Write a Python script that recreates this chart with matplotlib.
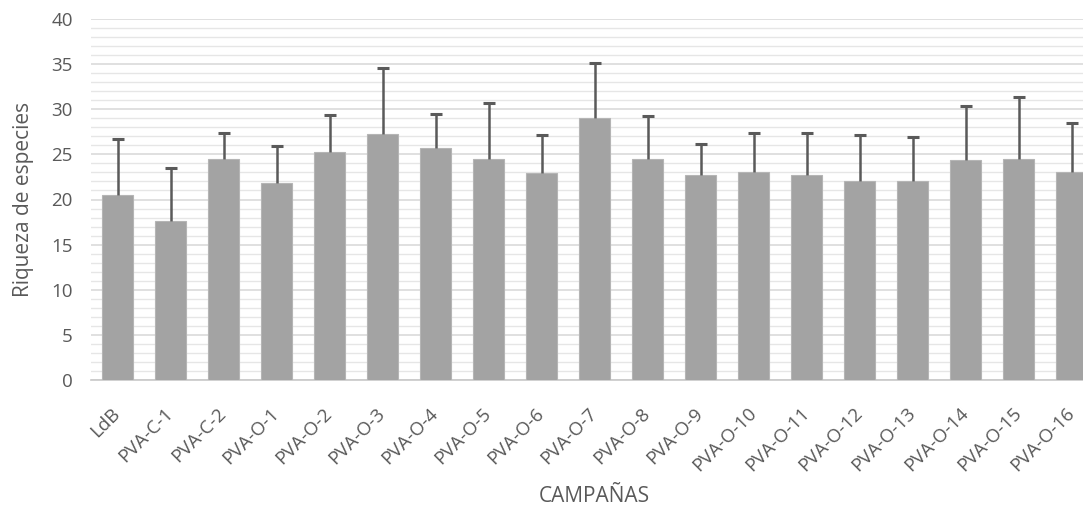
import matplotlib
matplotlib.use("Agg")
import matplotlib.pyplot as plt
from matplotlib.ticker import MultipleLocator

# Species richness per sampling campaign (mean and upper SD)
campaigns = ["LdB", "PVA-C-1", "PVA-C-2", "PVA-O-1", "PVA-O-2", "PVA-O-3", "PVA-O-4",
             "PVA-O-5", "PVA-O-6", "PVA-O-7", "PVA-O-8", "PVA-O-9", "PVA-O-10",
             "PVA-O-11", "PVA-O-12", "PVA-O-13", "PVA-O-14", "PVA-O-15", "PVA-O-16"]
richness = [20.5, 17.6, 24.5, 21.8, 25.3, 27.3, 25.7, 24.5, 22.9, 29.0,
            24.5, 22.7, 23.0, 22.7, 22.1, 22.1, 24.4, 24.5, 23.1]
err_top = [26.7, 23.5, 27.4, 25.9, 29.4, 34.6, 29.5, 30.7, 27.2, 35.1,
           29.3, 26.1, 27.4, 27.4, 27.2, 26.9, 30.4, 31.4, 28.5]
sd = [t - m for t, m in zip(err_top, richness)]

TXT = "#595959"
plt.rcParams["font.family"] = ["Open Sans", "DejaVu Sans"]

fig = plt.figure(figsize=(10.83, 5.15), dpi=100)
ax = fig.add_axes([91 / 1083, 135 / 515, 992 / 1083, 361 / 515])

x = range(len(campaigns))
ax.bar(x, richness, width=0.58, color="#a3a3a3", edgecolor="#b5b5b5",
       linewidth=0.8, zorder=3)
_, caps, _ = ax.errorbar(x, richness, yerr=[[0] * len(sd), sd], fmt="none",
                         ecolor="#5a5a5a", elinewidth=1.8, capsize=4,
                         capthick=2.2, zorder=4)
caps[0].set_visible(False)  # plus-direction only

ax.set_ylim(0, 40)
ax.set_xlim(-0.5, 992 / 53 - 0.5)
ax.yaxis.set_major_locator(MultipleLocator(5))
ax.yaxis.set_minor_locator(MultipleLocator(1))
ax.grid(axis="y", which="major", color="#dadada", linewidth=1.2, zorder=0)
ax.grid(axis="y", which="minor", color="#e6e6e6", linewidth=1.0, zorder=0)

ax.set_xticks(list(x))
ax.set_xticklabels(campaigns, rotation=45, ha="right", va="center",
                   rotation_mode="anchor", fontsize=13.5, color=TXT)
ax.tick_params(axis="x", length=0, pad=22)
ax.tick_params(axis="y", which="both", length=0, pad=13, labelsize=13.5, labelcolor=TXT)

for s in ["top", "right", "left"]:
    ax.spines[s].set_visible(False)
ax.spines["bottom"].set_color("#c8c8c8")
ax.spines["bottom"].set_linewidth(1.2)

ax.set_ylabel("Riqueza de especies", fontsize=15, color=TXT)
ax.yaxis.set_label_coords(-57 / 992, 0.5)
fig.text(594 / 1083, 1 - 497 / 515, "CAMPAÑAS", ha="center", va="center",
         fontsize=15, color=TXT)

fig.savefig("out.png", dpi=100)
